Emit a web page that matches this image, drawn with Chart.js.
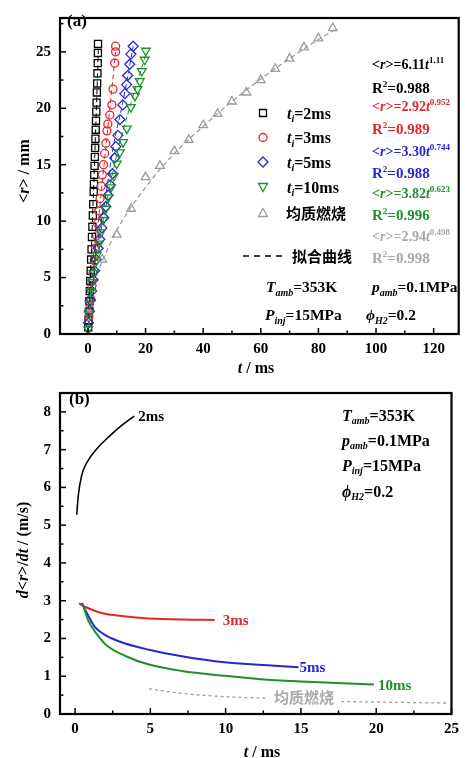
<!DOCTYPE html>
<html>
<head>
<meta charset="utf-8">
<script src="https://cdn.jsdelivr.net/npm/chart.js@4.4.1/dist/chart.umd.min.js"></script>
<style>
  html, body { margin: 0; padding: 0; background: #fff; }
  #wrap { position: relative; width: 465px; height: 758px; overflow: hidden; }
  canvas { position: absolute; left: 0; }
  #chartA { top: 0; }
  #chartB { top: 375px; }
</style>
</head>
<body>
<div id="wrap">
  <canvas id="chartA" width="465" height="375"></canvas>
  <canvas id="chartB" width="465" height="383"></canvas>
</div>
<script>
// ---- panel (a): flame radius <r> vs t, markers ----
var T_2MS = [0.1, 0.2, 0.35, 0.5, 0.65, 0.8, 0.95, 1.1, 1.25, 1.4, 1.55, 1.7, 1.85, 2.0, 2.1, 2.2, 2.3, 2.4, 2.5, 2.6, 2.7, 2.8, 2.9, 3.0, 3.1, 3.2, 3.3, 3.4, 3.45, 3.5];
var R_2MS = [0.6, 1.2, 2.0, 2.9, 3.8, 4.7, 5.6, 6.6, 7.5, 8.6, 9.5, 10.5, 11.5, 12.6, 13.3, 14.1, 14.9, 15.7, 16.5, 17.3, 18.1, 18.9, 19.7, 20.5, 21.4, 22.2, 23.1, 24.0, 24.9, 25.7];
var T_3MS = [0.3, 0.6, 1.0, 1.4, 1.8, 2.2, 2.6, 3.0, 3.4, 3.8, 4.2, 4.6, 5.0, 5.4, 5.8, 6.2, 6.6, 6.9, 7.6, 8.3, 8.7, 9.3, 9.6, 9.6];
var R_3MS = [1.5, 2.2, 3.1, 4.3, 5.4, 6.5, 7.6, 8.7, 9.8, 10.9, 12.0, 13.1, 14.1, 15.0, 16.0, 16.9, 18.0, 18.6, 19.4, 20.3, 21.7, 24.0, 25.0, 25.5];
var T_5MS = [0.2, 0.5, 0.9, 1.3, 1.8, 2.3, 2.9, 3.5, 4.1, 4.8, 5.5, 6.2, 7.0, 7.7, 8.5, 9.3, 9.7, 10.4, 11.1, 12.1, 12.8, 13.4, 13.8, 14.5, 14.9, 15.7];
var R_5MS = [1.0, 2.0, 3.0, 3.8, 4.8, 5.6, 6.6, 7.6, 8.4, 9.4, 10.3, 11.3, 12.3, 13.2, 14.2, 15.6, 16.6, 17.6, 19.0, 20.3, 21.3, 22.1, 22.9, 23.9, 24.8, 25.5];
var T_10MS = [0.05, 0.3, 0.6, 1.0, 1.4, 1.9, 2.5, 3.1, 3.8, 4.5, 5.3, 6.2, 7.1, 8.0, 9.0, 10.0, 11.1, 12.2, 13.5, 14.9, 16.3, 17.2, 18.0, 18.7, 19.7, 20.1];
var R_10MS = [0.4, 1.8, 2.7, 3.8, 4.6, 5.4, 6.3, 7.0, 8.0, 9.0, 10.1, 11.1, 12.1, 13.0, 14.0, 15.1, 16.1, 17.0, 18.2, 20.1, 21.1, 21.7, 22.4, 23.3, 24.3, 25.1];
var T_HOMO = [5, 10, 15, 20, 25, 30, 35, 40, 45, 50, 55, 60, 65, 70, 75, 80, 85];
var R_HOMO = [6.6, 8.8, 11.1, 13.9, 14.9, 16.2, 17.2, 18.5, 19.5, 20.6, 21.4, 22.5, 23.5, 24.4, 25.4, 26.2, 27.1];

// fitted curves (dashed)
var FIT_T_2MS = [0, 1, 2, 3, 3.6];
var FIT_R_2MS = [0, 6.1, 13.2, 20.5, 25.2];
var FIT_T_3MS = [0, 2, 4, 6, 8, 9.6];
var FIT_R_3MS = [0, 5.6, 10.9, 16.0, 21.0, 25.0];
var FIT_T_5MS = [0, 1, 3, 6, 9, 12, 15.7];
var FIT_R_5MS = [0, 3.3, 7.5, 12.0, 16.9, 20.4, 25.5];
var FIT_T_10MS = [0, 1, 3, 6, 10, 15, 20.1];
var FIT_R_10MS = [0, 3.8, 7.1, 11.0, 15.9, 20.5, 24.8];
var FIT_T_HOMO = [4, 10, 20, 30, 40, 50, 60, 70, 80, 86];
var FIT_R_HOMO = [5.9, 9.2, 13.0, 16.0, 18.4, 20.6, 22.6, 24.4, 26.1, 27.0];

// ---- panel (b): d<r>/dt vs t ----
var DT_2MS = [0.11, 0.22, 0.44, 0.8, 1.42, 2.29, 3.16, 3.93];
var DV_2MS = [5.28, 5.8, 6.32, 6.67, 7.01, 7.36, 7.66, 7.89];
var DT_3MS = [0.26, 0.77, 1.64, 3.38, 4.91, 7.09, 9.27];
var DV_3MS = [2.93, 2.82, 2.69, 2.58, 2.53, 2.5, 2.49];
var DT_5MS = [0.44, 0.87, 1.31, 1.85, 2.94, 4.91, 7.09, 9.93, 12.5, 14.84];
var DV_5MS = [2.94, 2.61, 2.31, 2.13, 1.92, 1.7, 1.53, 1.37, 1.3, 1.24];
var DT_10MS = [0.5, 0.87, 1.42, 2.07, 3.38, 4.91, 7.09, 9.93, 12.32, 14.94, 17.34, 19.85];
var DV_10MS = [2.92, 2.48, 2.13, 1.83, 1.53, 1.31, 1.14, 1.01, 0.92, 0.86, 0.82, 0.78];
var DT_HOMO = [4.91, 7, 10.36, 12.8, 15, 17.67, 21, 24.76];
var DV_HOMO = [0.67, 0.55, 0.45, 0.42, null, 0.33, 0.31, 0.29];

// tick labels
var A_X_TICKS = [0, 20, 40, 60, 80, 100, 120];
var A_X_MINOR = [10, 30, 50, 70, 90, 110];
var A_Y_TICKS = [0, 5, 10, 15, 20, 25];
var A_Y_MINOR = [2.5, 7.5, 12.5, 17.5, 22.5, 27.5];
var B_X_TICKS = [0, 5, 10, 15, 20, 25];
var B_X_MINOR = [2.5, 7.5, 12.5, 17.5, 22.5];
var B_Y_TICKS = [0, 1, 2, 3, 4, 5, 6, 7, 8];
var B_Y_MINOR = [0.5, 1.5, 2.5, 3.5, 4.5, 5.5, 6.5, 7.5];

var BLACK = '#000000', RED = '#e3262b', BLUE = '#2727d2', GREEN = '#1f902a', GRAY = '#9c9c9c';
var SERIF = '"Liberation Serif", "Times New Roman", serif';
var CJK = '"Noto Sans CJK SC", sans-serif';

function pts(xs, ys) {
	return xs.map(function (x, i) { return { x: x, y: ys[i] }; });
}

function fontOf(style, size) {
	return (style.indexOf('i') >= 0 ? 'italic ' : '') + 'bold ' + size + 'px ' + SERIF;
}

// parts: [text, style]; style letters: i = italic, b = subscript, p = superscript
function richText(ctx, x, y, parts, size, color, align) {
	var pieces = parts.map(function (p) {
		var st = p[1] || '';
		var small = st.indexOf('b') >= 0 || st.indexOf('p') >= 0;
		var sz = small ? Math.round(size * 0.62) : size;
		ctx.font = fontOf(st, sz);
		return { txt: p[0], st: st, font: ctx.font, w: ctx.measureText(p[0]).width };
	});
	var total = pieces.reduce(function (s, p) { return s + p.w; }, 0);
	var cx = align === 'center' ? x - total / 2 : (align === 'right' ? x - total : x);
	var base = y + size * 0.35;
	ctx.save();
	ctx.fillStyle = color;
	ctx.textAlign = 'left';
	ctx.textBaseline = 'alphabetic';
	pieces.forEach(function (p) {
		var dy = 0;
		if (p.st.indexOf('b') >= 0) dy = size * 0.22;
		if (p.st.indexOf('p') >= 0) dy = -size * 0.42;
		ctx.font = p.font;
		ctx.fillText(p.txt, cx, base + dy);
		cx += p.w;
	});
	ctx.restore();
}

function cjkText(ctx, x, y, txt, size, color) {
	ctx.save();
	ctx.font = 'bold ' + size + 'px ' + CJK;
	ctx.fillStyle = color;
	ctx.textAlign = 'left';
	ctx.textBaseline = 'middle';
	ctx.fillText(txt, x, y);
	ctx.restore();
}

// frame box + inward ticks, drawn from the chart's own scales
var framePlugin = {
	id: 'frame',
	afterDraw: function (chart, args, opts) {
		var ctx = chart.ctx, a = chart.chartArea;
		var sx = chart.scales.x, sy = chart.scales.y;
		ctx.save();
		ctx.strokeStyle = '#000';
		ctx.lineWidth = 1.5;
		function tick(x1, y1, x2, y2) {
			ctx.beginPath(); ctx.moveTo(x1, y1); ctx.lineTo(x2, y2); ctx.stroke();
		}
		opts.xMajor.forEach(function (v) { var p = sx.getPixelForValue(v); tick(p, a.bottom, p, a.bottom - 6); });
		opts.xMinor.forEach(function (v) { var p = sx.getPixelForValue(v); tick(p, a.bottom, p, a.bottom - 3.5); });
		opts.yMajor.forEach(function (v) { var p = sy.getPixelForValue(v); tick(a.left, p, a.left + 6, p); });
		opts.yMinor.forEach(function (v) { var p = sy.getPixelForValue(v); tick(a.left, p, a.left + 3.5, p); });
		ctx.lineWidth = 2.2;
		ctx.strokeRect(a.left, a.top, a.right - a.left, a.bottom - a.top);
		ctx.restore();
	}
};

function marker(ctx, style, x, y, color) {
	ctx.save();
	ctx.strokeStyle = color;
	ctx.lineWidth = 1.3;
	ctx.beginPath();
	if (style === 'rect') {
		ctx.rect(x - 3.5, y - 3.5, 7, 7);
	} else if (style === 'circle') {
		ctx.arc(x, y, 4, 0, Math.PI * 2);
	} else if (style === 'diamond') {
		ctx.moveTo(x, y - 5); ctx.lineTo(x + 5, y); ctx.lineTo(x, y + 5); ctx.lineTo(x - 5, y); ctx.closePath();
	} else if (style === 'down') {
		ctx.moveTo(x - 4.5, y - 3.5); ctx.lineTo(x + 4.5, y - 3.5); ctx.lineTo(x, y + 4.5); ctx.closePath();
	} else {
		ctx.moveTo(x - 4.5, y + 3.5); ctx.lineTo(x + 4.5, y + 3.5); ctx.lineTo(x, y - 4.5); ctx.closePath();
	}
	ctx.stroke();
	ctx.restore();
}

var notesA = {
	id: 'notesA',
	afterDraw: function (chart) {
		var ctx = chart.ctx;
		richText(ctx, 67, 20, [['(a)']], 17, BLACK, 'left');

		// fit equations
		var eq = [
			['6.11', '1.11', '0.988', BLACK],
			['2.92', '0.952', '0.989', RED],
			['3.30', '0.744', '0.988', BLUE],
			['3.82', '0.623', '0.996', GREEN],
			['2.94', '0.498', '0.998', '#a9a9a9']
		];
		var ys = [[64, 88], [106, 129], [151, 173], [193, 215], [236, 258]];
		eq.forEach(function (e, i) {
			richText(ctx, 372, ys[i][0], [['<'], ['r', 'i'], ['>=' + e[0]], ['t', 'i'], [e[1], 'p']], 14, e[3], 'left');
			richText(ctx, 372, ys[i][1], [['R'], ['2', 'p'], ['=' + e[2]]], 15, e[3], 'left');
		});

		// legend
		var leg = [['rect', '2ms', BLACK, 113], ['circle', '3ms', RED, 137.5], ['diamond', '5ms', BLUE, 162], ['down', '10ms', GREEN, 187]];
		leg.forEach(function (l) {
			marker(ctx, l[0], 263, l[3], l[2]);
			richText(ctx, 287, l[3], [['t', 'i'], ['i', 'ib'], ['=' + l[1]]], 16, BLACK, 'left');
		});
		marker(ctx, 'up', 263, 213, GRAY);
		cjkText(ctx, 286, 213, '均质燃烧', 15, BLACK);
		ctx.save();
		ctx.strokeStyle = BLACK;
		ctx.lineWidth = 1.6;
		ctx.setLineDash([6, 5]);
		ctx.beginPath(); ctx.moveTo(243, 256); ctx.lineTo(283, 256); ctx.stroke();
		ctx.restore();
		cjkText(ctx, 292, 256, '拟合曲线', 15, BLACK);

		// conditions
		richText(ctx, 266, 287, [['T', 'i'], ['amb', 'ib'], ['=353K']], 15.5, BLACK, 'left');
		richText(ctx, 372, 287, [['p', 'i'], ['amb', 'ib'], ['=0.1MPa']], 15.5, BLACK, 'left');
		richText(ctx, 265, 315, [['P', 'i'], ['inj', 'ib'], ['=15MPa']], 15.5, BLACK, 'left');
		richText(ctx, 366, 315, [['ϕ', 'i'], ['H2', 'ib'], ['=0.2']], 15.5, BLACK, 'left');

		// axis titles
		richText(ctx, 256, 367, [['t', 'i'], [' / ms']], 16, BLACK, 'center');
		ctx.save();
		ctx.translate(23, 171);
		ctx.rotate(-Math.PI / 2);
		richText(ctx, 0, 0, [['<'], ['r', 'i'], ['> / mm']], 16, BLACK, 'center');
		ctx.restore();
	}
};

var notesB = {
	id: 'notesB',
	afterDraw: function (chart) {
		var ctx = chart.ctx, sx = chart.scales.x, sy = chart.scales.y;
		richText(ctx, 69, 23, [['(b)']], 17, BLACK, 'left');

		function endLabel(ts, vs, txt, color, dx) {
			var i = ts.length - 1;
			richText(ctx, sx.getPixelForValue(ts[i]) + dx, sy.getPixelForValue(vs[i]), [[txt]], 15, color, 'left');
		}
		endLabel(DT_2MS, DV_2MS, '2ms', BLACK, 4);
		endLabel(DT_3MS, DV_3MS, '3ms', RED, 8);
		endLabel(DT_5MS, DV_5MS, '5ms', BLUE, 1);
		endLabel(DT_10MS, DV_10MS, '10ms', GREEN, 4);
		cjkText(ctx, 274, 322, '均质燃烧', 15, '#a8a8a8');

		richText(ctx, 342, 40, [['T', 'i'], ['amb', 'ib'], ['=353K']], 16, BLACK, 'left');
		richText(ctx, 342, 65, [['p', 'i'], ['amb', 'ib'], ['=0.1MPa']], 16, BLACK, 'left');
		richText(ctx, 342, 90, [['P', 'i'], ['inj', 'ib'], ['=15MPa']], 16, BLACK, 'left');
		richText(ctx, 342, 116, [['ϕ', 'i'], ['H2', 'ib'], ['=0.2']], 16, BLACK, 'left');

		richText(ctx, 262, 376, [['t', 'i'], [' / ms']], 16, BLACK, 'center');
		ctx.save();
		ctx.translate(22, 175);
		ctx.rotate(-Math.PI / 2);
		richText(ctx, 0, 0, [['d', 'i'], ['<'], ['r', 'i'], ['>/'], ['dt', 'i'], [' / (m/s)']], 16, BLACK, 'center');
		ctx.restore();
	}
};

function markerSet(xs, ys, color, style, rot, radius) {
	return {
		data: pts(xs, ys),
		showLine: false,
		pointStyle: style,
		pointRotation: rot,
		pointRadius: radius,
		pointBorderWidth: 1.3,
		borderColor: color,
		backgroundColor: 'rgba(0,0,0,0)'
	};
}

function fitLine(xs, ys, color, width) {
	return {
		data: pts(xs, ys),
		showLine: true,
		pointRadius: 0,
		borderColor: color,
		borderWidth: width,
		borderDash: [5, 3],
		cubicInterpolationMode: 'monotone',
		fill: false
	};
}

function curve(xs, ys, color, width, dash) {
	return {
		data: pts(xs, ys),
		showLine: true,
		pointRadius: 0,
		borderColor: color,
		borderWidth: width,
		borderDash: dash || [],
		cubicInterpolationMode: 'monotone',
		spanGaps: false,
		fill: false
	};
}

function tickFont() {
	return { family: SERIF, size: 15, weight: 'bold' };
}

function axis(min, max, ticks, fixW, fixH, pad) {
	var o = {
		type: 'linear',
		min: min,
		max: max,
		grid: { display: false, drawTicks: false },
		border: { display: false },
		ticks: { color: '#000', font: tickFont(), padding: pad, maxRotation: 0, autoSkip: false },
		afterBuildTicks: function (s) { s.ticks = ticks.map(function (v) { return { value: v }; }); }
	};
	if (fixW) o.afterFit = function (s) { s.width = fixW; };
	if (fixH) o.afterFit = function (s) { s.height = fixH; };
	return o;
}

Chart.defaults.devicePixelRatio = 1;

new Chart(document.getElementById('chartA'), {
	type: 'scatter',
	data: {
		datasets: [
			fitLine(FIT_T_HOMO, FIT_R_HOMO, GRAY, 1.3),
			fitLine(FIT_T_10MS, FIT_R_10MS, GREEN, 1),
			fitLine(FIT_T_5MS, FIT_R_5MS, BLUE, 1),
			fitLine(FIT_T_3MS, FIT_R_3MS, RED, 1),
			fitLine(FIT_T_2MS, FIT_R_2MS, BLACK, 1),
			markerSet(T_HOMO, R_HOMO, GRAY, 'triangle', 0, 5),
			markerSet(T_10MS, R_10MS, GREEN, 'triangle', 180, 5),
			markerSet(T_5MS, R_5MS, BLUE, 'rectRot', 0, 5),
			markerSet(T_3MS, R_3MS, RED, 'circle', 0, 4),
			markerSet(T_2MS, R_2MS, BLACK, 'rect', 0, 5)
		]
	},
	options: {
		responsive: false,
		animation: false,
		devicePixelRatio: 1,
		layout: { padding: { top: 8, right: 5, left: 0, bottom: 0 } },
		plugins: {
			legend: { display: false },
			tooltip: { enabled: false },
			frame: { xMajor: A_X_TICKS, xMinor: A_X_MINOR, yMajor: A_Y_TICKS, yMinor: A_Y_MINOR }
		},
		scales: {
			x: axis(-9.7, 128.7, A_X_TICKS, 0, 41, 6),
			y: axis(0, 28, A_Y_TICKS, 60, 0, 9)
		}
	},
	plugins: [framePlugin, notesA]
});

new Chart(document.getElementById('chartB'), {
	type: 'scatter',
	data: {
		datasets: [
			curve(DT_HOMO, DV_HOMO, '#a0a0a0', 1.3, [3, 3]),
			curve(DT_10MS, DV_10MS, GREEN, 2),
			curve(DT_5MS, DV_5MS, BLUE, 2),
			curve(DT_3MS, DV_3MS, RED, 2),
			curve(DT_2MS, DV_2MS, BLACK, 1.6)
		]
	},
	options: {
		responsive: false,
		animation: false,
		devicePixelRatio: 1,
		layout: { padding: { top: 11, right: 8, left: 0, bottom: 0 } },
		plugins: {
			legend: { display: false },
			tooltip: { enabled: false },
			frame: { xMajor: B_X_TICKS, xMinor: B_X_MINOR, yMajor: B_Y_TICKS, yMinor: B_Y_MINOR }
		},
		scales: {
			x: axis(-1, 25, B_X_TICKS, 0, 44, 6),
			y: axis(0, 8.5, B_Y_TICKS, 60, 0, 9)
		}
	},
	plugins: [framePlugin, notesB]
});
</script>
</body>
</html>
